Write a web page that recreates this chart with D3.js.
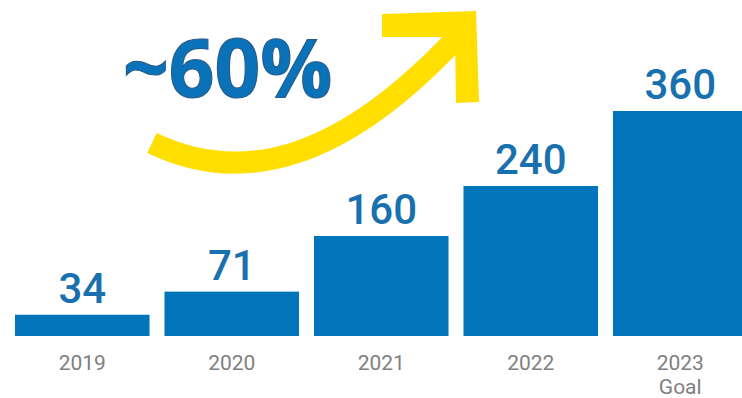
<!DOCTYPE html>
<html>
<head>
<meta charset="utf-8">
<script src="https://cdnjs.cloudflare.com/ajax/libs/d3/7.8.5/d3.min.js"></script>
<style>
  html, body { margin: 0; padding: 0; background: #fff; }
  svg { display: block; }
</style>
</head>
<body>
<div id="chart"></div>
<script>
// data
const years = ["2019", "2020", "2021", "2022", "2023"];
const subLabels = ["", "", "", "", "Goal"];
const values = [34, 71, 160, 240, 360];
const growthText = "~60%";

const svgWidth = 742;
const svgHeight = 398;

const svg = d3.select('#chart').append('svg')
    .attr('width', svgWidth)
    .attr('height', svgHeight);

const xBand = d3.scaleBand()
    .domain(years)
    .range([7.5, 755])
    .paddingInner(0.1)
    .paddingOuter(0.05);

const yLinear = d3.scaleLinear()
    .domain([0, 360])
    .range([336, 111]);

const rows = years.map((y, i) => ({year: y, sub: subLabels[i], value: values[i]}));

// bars
svg.append('g').selectAll('rect').data(rows)
    .enter()
    .append('rect')
    .attr('x', d => xBand(d.year))
    .attr('y', d => yLinear(d.value))
    .attr('width', xBand.bandwidth())
    .attr('height', d => yLinear(0) - yLinear(d.value))
    .attr('fill', '#0075b9');

// value labels
svg.append('g').selectAll('text').data(rows)
    .enter()
    .append('text')
    .attr('x', d => xBand(d.year) + xBand.bandwidth() / 2)
    .attr('y', d => yLinear(d.value) - 12)
    .attr('text-anchor', 'middle')
    .style('font-family', 'Roboto, sans-serif')
    .style('font-weight', 500)
    .style('font-size', '42px')
    .attr('fill', '#1870ae')
    .text(d => d.value);

// category labels (drawn with an axis, line and ticks hidden)
const xAxis = svg.append('g')
    .attr('transform', 'translate(0,336)')
    .call(d3.axisBottom(xBand).tickSize(0).tickPadding(34));
xAxis.select('.domain').remove();
xAxis.selectAll('text')
    .style('font-family', 'Roboto, sans-serif')
    .style('font-size', '21px')
    .attr('fill', '#808080')
    .attr('dy', 0);
xAxis.selectAll('.tick').each(function(d, i) {
    if (subLabels[i]) {
        d3.select(this).append('text')
            .attr('y', 58)
            .attr('text-anchor', 'middle')
            .style('font-family', 'Roboto, sans-serif')
            .style('font-size', '21px')
            .attr('fill', '#808080')
            .text(subLabels[i]);
    }
});

// growth arrow
const arrow = svg.append('g');
arrow.append('path')
    .attr('d', 'M152,143 C240,185 340,165 462,32')
    .attr('fill', 'none')
    .attr('stroke', '#ffde00')
    .attr('stroke-width', 22);
arrow.append('path')
    .attr('d', 'M382,14 L476,11 L479,102 L456,103 L455,37 L382,37 Z')
    .attr('fill', '#ffde00');

svg.append('text')
    .attr('x', 123)
    .attr('y', 97)
    .style('font-family', '"Open Sans", sans-serif')
    .style('font-weight', 700)
    .style('font-size', '80px')
    .attr('fill', '#0a72b8')
    .attr('stroke', '#275d8c')
    .attr('stroke-width', 1.2)
    .text(growthText);
</script>
</body>
</html>
